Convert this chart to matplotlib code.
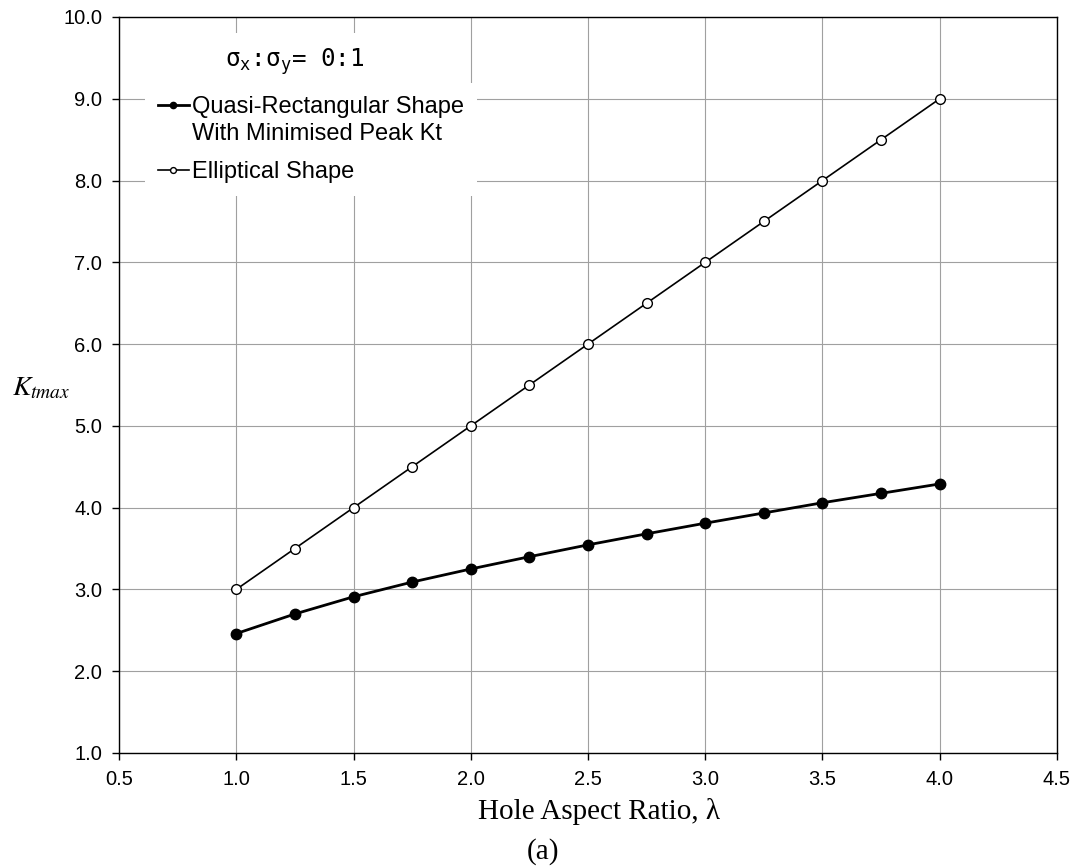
import numpy as np
import matplotlib
matplotlib.use('Agg')
import matplotlib.pyplot as plt
from matplotlib.ticker import FormatStrFormatter
from matplotlib.patches import Rectangle

# data
aspect_ratio = [1.0, 1.25, 1.5, 1.75, 2.0, 2.25, 2.5, 2.75, 3.0, 3.25, 3.5, 3.75, 4.0]
kt_quasi_rect = [2.46, 2.70, 2.91, 3.09, 3.25, 3.40, 3.545, 3.68, 3.81, 3.935, 4.06, 4.175, 4.29]
kt_elliptical = [3.0, 3.5, 4.0, 4.5, 5.0, 5.5, 6.0, 6.5, 7.0, 7.5, 8.0, 8.5, 9.0]

x_ticks = [0.5, 1.0, 1.5, 2.0, 2.5, 3.0, 3.5, 4.0, 4.5]
y_ticks = [1.0, 2.0, 3.0, 4.0, 5.0, 6.0, 7.0, 8.0, 9.0, 10.0]

label_rect = 'Quasi-Rectangular Shape'
label_rect_2 = 'With Minimised Peak Kt'
label_ell = 'Elliptical Shape'

plt.rcParams['font.family'] = 'Liberation Sans'

fig = plt.figure(figsize=(10.78, 8.66), dpi=100)
ax = fig.add_axes([0.1104, 0.1305, 0.8701, 0.8499])

ax.plot(aspect_ratio, kt_quasi_rect, color='black', lw=2.0, marker='o',
        markersize=7.5, markerfacecolor='black', markeredgecolor='black',
        label=label_rect, zorder=3)
ax.plot(aspect_ratio, kt_elliptical, color='black', lw=1.2, marker='o',
        markersize=7, markerfacecolor='white', markeredgecolor='black',
        markeredgewidth=1.0, label=label_ell, zorder=3)

ax.set_xlim(0.5, 4.5)
ax.set_ylim(1.0, 10.0)
ax.set_xticks(x_ticks)
ax.set_yticks(y_ticks)
ax.xaxis.set_major_formatter(FormatStrFormatter('%.1f'))
ax.yaxis.set_major_formatter(FormatStrFormatter('%.1f'))
ax.tick_params(axis='both', direction='out', length=5, width=1, labelsize=14.5,
               colors='black', pad=7)
ax.grid(True, color='#a0a0a0', lw=0.8)
ax.set_axisbelow(True)
for s in ax.spines.values():
    s.set_color('black')
    s.set_linewidth(1.0)

# axis labels
fig.text(0.5557, 0.0635, 'Hole Aspect Ratio, λ', ha='center', va='center',
         fontsize=21, family='Liberation Serif')
fig.text(0.504, 0.017, '(a)', ha='center', va='center',
         fontsize=21, family='Liberation Serif')
fig.text(0.011, 0.551, r'$K_{tmax}$', ha='left', va='center', fontsize=20,
         math_fontfamily='stix')

# stress ratio note in its own white box
def px_to_axes(px, py):
    return ((px - 119) / 938.0, (753 - py) / 736.0)

x0, y0 = px_to_axes(145, 83)
x1, y1 = px_to_axes(460, 33)
ax.add_patch(Rectangle((x0, y0), x1 - x0, y1 - y0, transform=ax.transAxes,
                       facecolor='white', edgecolor='none', zorder=2.5))
tx, ty = px_to_axes(295, 62)
ax.text(tx, ty, r'$\mathregular{σ_x}$:$\mathregular{σ_y}$= 0:1',
        transform=ax.transAxes, ha='center', va='center', fontsize=17.5,
        family='DejaVu Sans Mono', zorder=4)

lx, ly = px_to_axes(145, 83)
leg = ax.legend(loc='upper left', bbox_to_anchor=(lx, ly), fontsize=17,
                frameon=True, fancybox=False, framealpha=1.0,
                edgecolor='none', facecolor='white', handlelength=1.3,
                handletextpad=0.15, labelspacing=1.82, borderaxespad=0,
                markerscale=0.6, borderpad=0.55)
leg.set_zorder(5)

# second line of the first legend entry, under its first line
fig.canvas.draw()
bb = leg.get_texts()[0].get_window_extent()
fig.text(bb.x0 / fig.bbox.width, (bb.y0 - 27) / fig.bbox.height, label_rect_2,
         ha='left', va='bottom', fontsize=17, zorder=6)

fig.savefig('out.png', dpi=100)
